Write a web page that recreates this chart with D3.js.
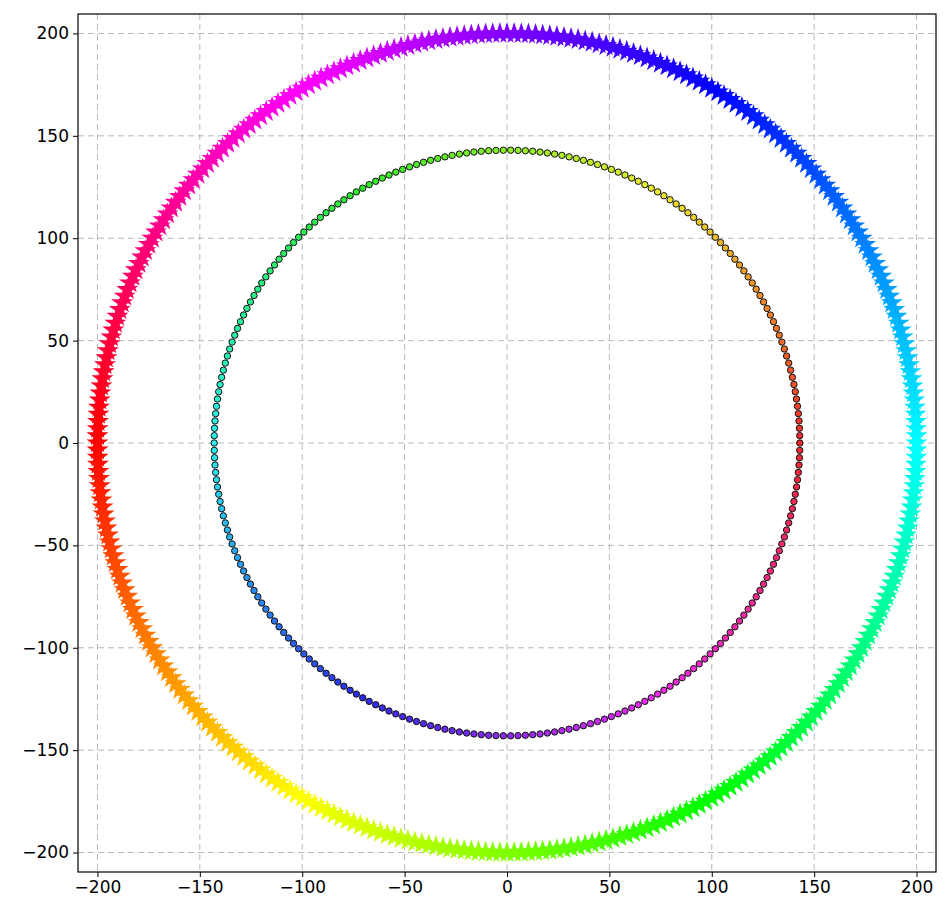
<!DOCTYPE html>
<html><head><meta charset="utf-8">
<script src="https://cdn.jsdelivr.net/npm/d3@7"></script>
<style>body{margin:0;background:#fff;font-family:"DejaVu Sans",sans-serif}</style>
</head><body><div id="chart"></div>
<script>
const width = 943, height = 915;
const margin = {top: 14, right: 7, bottom: 43, left: 78};

// Data: outer ring of 360 stars (r = 200), inner ring of 250 circles (r = 143)
const outerRadius = 200, outerCount = 360;
const innerRadius = 143, innerCount = 250;
const outerAngles = d3.range(outerCount).map(i => i * 360 / outerCount);
const innerAngles = d3.range(innerCount).map(i => i * 360 / innerCount);
const tickValues = [-200, -150, -100, -50, 0, 50, 100, 150, 200];

const svg = d3.select('#chart').append('svg')
  .attr('width', width).attr('height', height);

const x = d3.scaleLinear().domain([-209.5, 209.5]).range([margin.left, width - margin.right]);
const y = d3.scaleLinear().domain([-209.5, 209.5]).range([height - margin.bottom, margin.top]);

// Grid
const grid = svg.append('g').attr('stroke', '#b8b8b8').attr('stroke-dasharray', '6,4').attr('stroke-width', 1);
grid.selectAll('.gx').data(tickValues).join('line')
  .attr('x1', d => x(d)).attr('x2', d => x(d))
  .attr('y1', margin.top).attr('y2', height - margin.bottom);
grid.selectAll('.gy').data(tickValues).join('line')
  .attr('y1', d => y(d)).attr('y2', d => y(d))
  .attr('x1', margin.left).attr('x2', width - margin.right);

const rad = Math.PI / 180;

// Outer stars, hsv colour starting at cyan
const star = d3.symbol().type(d3.symbolStar).size(150);
svg.append('g').selectAll('path').data(outerAngles).join('path')
  .attr('d', star)
  .attr('transform', a => `translate(${x(outerRadius * Math.cos(a * rad))},${y(outerRadius * Math.sin(a * rad))})`)
  .attr('fill', a => d3.hsl((180 + a) % 360, 1, 0.5));

// Inner circles
svg.append('g').selectAll('circle').data(innerAngles).join('circle')
  .attr('cx', a => x(innerRadius * Math.cos(a * rad)))
  .attr('cy', a => y(innerRadius * Math.sin(a * rad)))
  .attr('r', 3.2)
  .attr('fill', a => d3.hsl(a, 0.85, 0.55))
  .attr('stroke', '#111').attr('stroke-width', 1);

// Axes
const fmt = d => d < 0 ? '\u2212' + Math.abs(d) : String(d);
const xAxis = svg.append('g').attr('transform', `translate(0,${height - margin.bottom})`)
  .call(d3.axisBottom(x).tickValues(tickValues).tickFormat(fmt).tickSize(5).tickPadding(4));
const yAxis = svg.append('g').attr('transform', `translate(${margin.left},0)`)
  .call(d3.axisLeft(y).tickValues(tickValues).tickFormat(fmt).tickSize(5).tickPadding(4));
[xAxis, yAxis].forEach(g => {
  g.select('.domain').remove();
  g.selectAll('text').attr('font-size', 17).attr('fill', '#000').attr('font-family', 'DejaVu Sans');
  g.selectAll('line').attr('stroke', '#000');
});

svg.append('rect')
  .attr('x', margin.left).attr('y', margin.top)
  .attr('width', width - margin.left - margin.right).attr('height', height - margin.top - margin.bottom)
  .attr('fill', 'none').attr('stroke', '#000').attr('stroke-width', 1.2);
</script></body></html>
